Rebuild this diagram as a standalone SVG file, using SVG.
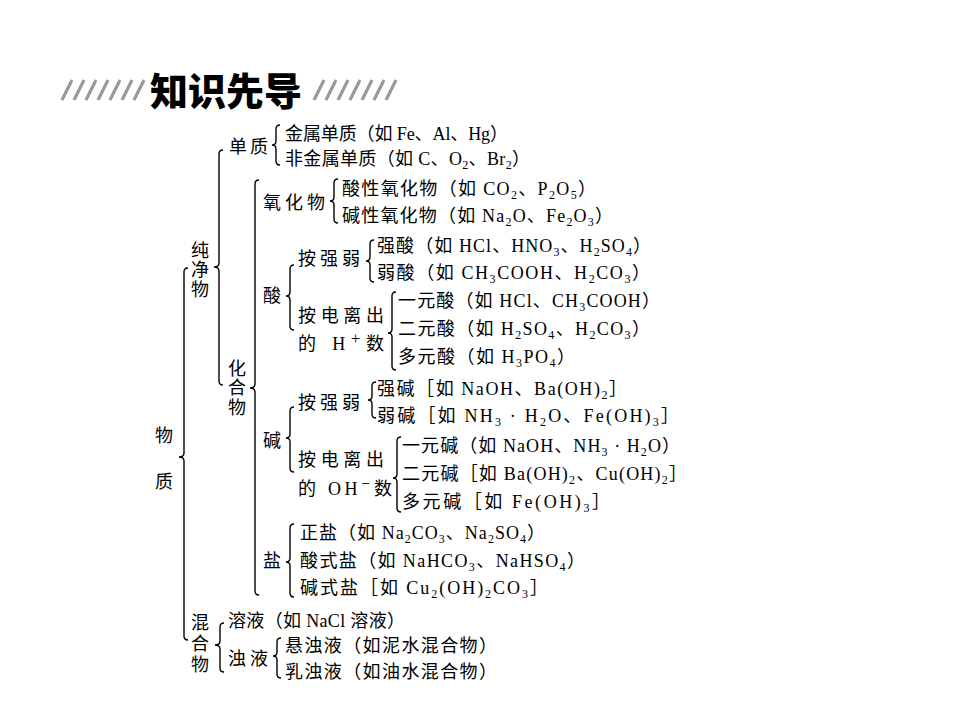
<svg xmlns="http://www.w3.org/2000/svg" width="960" height="720" viewBox="0 0 960 720">
<style>
.t{font-family:"Liberation Serif","Noto Sans CJK SC",serif;font-size:18px;fill:#000}
.c{font-family:"Noto Sans CJK SC",sans-serif;font-size:18px;fill:#000}
.v{font-family:"Noto Sans CJK SC",sans-serif;font-size:18px;fill:#000;writing-mode:vertical-rl}
.s{font-size:12px;baseline-shift:-4px}
.p{font-size:16px;baseline-shift:6px}
.br{fill:none;stroke:#000;stroke-width:1.4}
.h{stroke:#9a9a9a;stroke-width:3.2;stroke-linecap:butt}
.title{font-family:"Noto Sans CJK SC",sans-serif;font-size:38px;font-weight:900;fill:#000}
</style>
<rect width="960" height="720" fill="#fff"/>
<g id="title">
<g class="h">
<line x1="62" y1="100" x2="72" y2="80"/><line x1="74" y1="100" x2="84" y2="80"/><line x1="86" y1="100" x2="96" y2="80"/><line x1="98" y1="100" x2="108" y2="80"/><line x1="110" y1="100" x2="120" y2="80"/><line x1="122" y1="100" x2="132" y2="80"/><line x1="134" y1="100" x2="144" y2="80"/>
<line x1="314" y1="100" x2="324" y2="80"/><line x1="326" y1="100" x2="336" y2="80"/><line x1="338" y1="100" x2="348" y2="80"/><line x1="350" y1="100" x2="360" y2="80"/><line x1="362" y1="100" x2="372" y2="80"/><line x1="374" y1="100" x2="384" y2="80"/><line x1="386" y1="100" x2="396" y2="80"/>
</g>
<text class="title" x="150" y="105">知识先导</text>
</g>
<g id="connectors">
<path class="br" d="M188 268 Q184 268 184 272 V453 Q184 457 179 457 Q184 457 184 461 V636 Q184 640 188 640"/>
<path class="br" d="M223 150 Q219 150 219 154 V263 Q219 267 214 267 Q219 267 219 271 V381 Q219 385 223 385"/>
<path class="br" d="M259 180 Q255 180 255 184 V384 Q255 388 250 388 Q255 388 255 392 V591 Q255 595 259 595"/>
<path class="br" d="M224 623 Q220 623 220 627 V641 Q220 645 215 645 Q220 645 220 649 V668 Q220 672 224 672"/>
<path class="br" d="M280 125 Q276 125 276 129 V141 Q276 145 272 145 Q276 145 276 149 V161 Q276 165 280 165"/>
<path class="br" d="M338 179 Q334 179 334 183 V197 Q334 201 330 201 Q334 201 334 205 V219 Q334 223 338 223"/>
<path class="br" d="M294 265 Q290 265 290 269 V292 Q290 296 286 296 Q290 296 290 300 V326 Q290 330 294 330"/>
<path class="br" d="M374 240 Q370 240 370 244 V257 Q370 261 366 261 Q370 261 370 265 V278 Q370 282 374 282"/>
<path class="br" d="M396 292 Q392 292 392 296 V329 Q392 333 388 333 Q392 333 392 337 V366 Q392 370 396 370"/>
<path class="br" d="M294 407 Q290 407 290 411 V434 Q290 438 286 438 Q290 438 290 442 V468 Q290 472 294 472"/>
<path class="br" d="M376 382 Q372 382 372 386 V396 Q372 400 368 400 Q372 400 372 404 V414 Q372 418 376 418"/>
<path class="br" d="M401 437 Q397 437 397 441 V474 Q397 478 393 478 Q397 478 397 482 V508 Q397 512 401 512"/>
<path class="br" d="M294 524 Q290 524 290 528 V558 Q290 562 286 562 Q290 562 290 566 V593 Q290 597 294 597"/>
<path class="br" d="M281 638 Q277 638 277 642 V652 Q277 656 273 656 Q277 656 277 660 V674 Q277 678 281 678"/>
</g>
<g id="wuzhi"><text class="v" x="164" y="426" letter-spacing="28">物质</text></g>
<g id="chunjingwu"><text class="v" x="200" y="241" letter-spacing="1.5">纯净物</text></g>
<g id="huahewu"><text class="v" x="237" y="359" letter-spacing="1.5">化合物</text></g>
<g id="hunhewu"><text class="v" x="200" y="613" letter-spacing="3">混合物</text></g>
<g id="danzhi"><text class="c" x="229" y="153" textLength="39" lengthAdjust="spacing">单质</text></g>
<g id="jinshu"><text class="t" x="285" y="140" textLength="223" lengthAdjust="spacing">金属单质（如 Fe、Al、Hg）</text></g>
<g id="feijinshu"><text class="t" x="285" y="165" textLength="245" lengthAdjust="spacing">非金属单质（如 C、O<tspan class="s">2</tspan>、Br<tspan class="s">2</tspan>）</text></g>
<g id="yanghuawu"><text class="c" x="263" y="209" textLength="62" lengthAdjust="spacing">氧化物</text></g>
<g id="suanxing"><text class="t" x="342" y="195" textLength="254" lengthAdjust="spacing">酸性氧化物（如 CO<tspan class="s">2</tspan>、P<tspan class="s">2</tspan>O<tspan class="s">5</tspan>）</text></g>
<g id="jianxing"><text class="t" x="342" y="222" textLength="271" lengthAdjust="spacing">碱性氧化物（如 Na<tspan class="s">2</tspan>O、Fe<tspan class="s">2</tspan>O<tspan class="s">3</tspan>）</text></g>
<g id="suan"><text class="c" x="263" y="302">酸</text></g>
<g id="suan-qiangruo"><text class="c" x="298" y="265" textLength="62" lengthAdjust="spacing">按强弱</text></g>
<g id="qiangsuan"><text class="t" x="377" y="252" textLength="274" lengthAdjust="spacing">强酸（如 HCl、HNO<tspan class="s">3</tspan>、H<tspan class="s">2</tspan>SO<tspan class="s">4</tspan>）</text></g>
<g id="ruosuan"><text class="t" x="377" y="279" textLength="273" lengthAdjust="spacing">弱酸（如 CH<tspan class="s">3</tspan>COOH、H<tspan class="s">2</tspan>CO<tspan class="s">3</tspan>）</text></g>
<g id="suan-dianli"><text class="c" x="298" y="322" textLength="86" lengthAdjust="spacing">按电离出</text><text class="t" x="298" y="350" textLength="86" lengthAdjust="spacing">的 H<tspan class="p">+</tspan>数</text></g>
<g id="yiyuansuan"><text class="t" x="398" y="307" textLength="262" lengthAdjust="spacing">一元酸（如 HCl、CH<tspan class="s">3</tspan>COOH）</text></g>
<g id="eryuansuan"><text class="t" x="398" y="335" textLength="252" lengthAdjust="spacing">二元酸（如 H<tspan class="s">2</tspan>SO<tspan class="s">4</tspan>、H<tspan class="s">2</tspan>CO<tspan class="s">3</tspan>）</text></g>
<g id="duoyuansuan"><text class="t" x="398" y="363" textLength="177" lengthAdjust="spacing">多元酸（如 H<tspan class="s">3</tspan>PO<tspan class="s">4</tspan>）</text></g>
<g id="jian"><text class="c" x="263" y="447">碱</text></g>
<g id="jian-qiangruo"><text class="c" x="298" y="409" textLength="62" lengthAdjust="spacing">按强弱</text></g>
<g id="qiangjian"><text class="t" x="377" y="395" textLength="250" lengthAdjust="spacing">强碱［如 NaOH、Ba(OH)<tspan class="s">2</tspan>］</text></g>
<g id="ruojian"><text class="t" x="377" y="422" textLength="302" lengthAdjust="spacing">弱碱［如 NH<tspan class="s">3</tspan> · H<tspan class="s">2</tspan>O、Fe(OH)<tspan class="s">3</tspan>］</text></g>
<g id="jian-dianli"><text class="c" x="298" y="466" textLength="86" lengthAdjust="spacing">按电离出</text><text class="t" x="298" y="495" textLength="94" lengthAdjust="spacing">的 OH<tspan class="p">−</tspan>数</text></g>
<g id="yiyuanjian"><text class="t" x="402" y="452" textLength="278" lengthAdjust="spacing">一元碱（如 NaOH、NH<tspan class="s">3</tspan> · H<tspan class="s">2</tspan>O）</text></g>
<g id="eryuanjian"><text class="t" x="402" y="480" textLength="285" lengthAdjust="spacing">二元碱［如 Ba(OH)<tspan class="s">2</tspan>、Cu(OH)<tspan class="s">2</tspan>］</text></g>
<g id="duoyuanjian"><text class="t" x="402" y="508" textLength="208" lengthAdjust="spacing">多元碱［如 Fe(OH)<tspan class="s">3</tspan>］</text></g>
<g id="yan"><text class="c" x="263" y="567">盐</text></g>
<g id="zhengyan"><text class="t" x="300" y="539" textLength="245" lengthAdjust="spacing">正盐（如 Na<tspan class="s">2</tspan>CO<tspan class="s">3</tspan>、Na<tspan class="s">2</tspan>SO<tspan class="s">4</tspan>）</text></g>
<g id="suanshiyan"><text class="t" x="300" y="567" textLength="285" lengthAdjust="spacing">酸式盐（如 NaHCO<tspan class="s">3</tspan>、NaHSO<tspan class="s">4</tspan>）</text></g>
<g id="jianshiyan"><text class="t" x="300" y="594" textLength="248" lengthAdjust="spacing">碱式盐［如 Cu<tspan class="s">2</tspan>(OH)<tspan class="s">2</tspan>CO<tspan class="s">3</tspan>］</text></g>
<g id="rongye"><text class="t" x="228" y="627" textLength="177" lengthAdjust="spacing">溶液（如 NaCl 溶液）</text></g>
<g id="zhuoye"><text class="c" x="228" y="665" textLength="40" lengthAdjust="spacing">浊液</text></g>
<g id="xuanzhuoye"><text class="t" x="285" y="652" textLength="212" lengthAdjust="spacing">悬浊液（如泥水混合物）</text></g>
<g id="ruzhuoye"><text class="t" x="285" y="678" textLength="212" lengthAdjust="spacing">乳浊液（如油水混合物）</text></g>
</svg>
